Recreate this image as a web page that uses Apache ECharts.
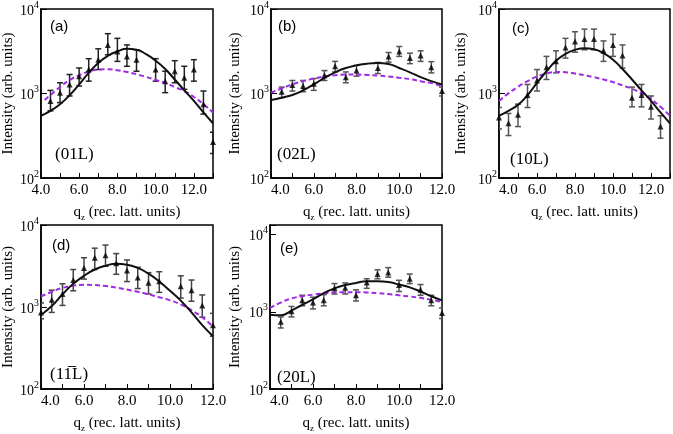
<!DOCTYPE html>
<html><head><meta charset="utf-8">
<script src="https://cdn.jsdelivr.net/npm/echarts@6/dist/echarts.min.js"></script>
<style>html,body{margin:0;padding:0;background:#fff}#c{width:673px;height:434px}</style>
</head><body><div id="c"></div>
<script>
// ---------- data ----------
const fitQ13 = [4,4.5,5,5.5,6,6.5,7,7.5,8,8.5,9,9.5,10,10.5,11,11.5,12,12.5,13];
const fitQ12 = [4,4.5,5,5.5,6,6.5,7,7.5,8,8.5,9,9.5,10,10.5,11,11.5,12];
const modelQA = [4.2,4.5,5,5.5,6,6.5,7,7.5,8,8.5,9,9.5,10,10.5,11,11.5,12,12.5,13];

// (a) 01L
const qA   = [4.5,5,5.5,6,6.5,7,7.5,8,8.5,9,10,10.5,11,11.5,12,12.5,13];
const valA = [817,1023,1280,1603,1920,2512,3758,3140,2749,2512,1920,1400,1834,1532,1920,748,266];
const loA  = [624,780,935,1225,1400,1920,2870,2400,2100,1834,1400,1023,1340,1120,1400,571,195];
const hiA  = [1089,1340,1678,2005,2582,3380,5105,4495,3758,3290,2582,1834,2445,2100,2512,1070,348];
const fitA   = [545,624,748,953,1280,1753,2291,2793,3140,3375,3290,2924,2445,1950,1466,1089,817,597,444];
const modelA = [840,960,1191,1439,1645,1817,1920,1935,1884,1800,1690,1573,1450,1336,1191,1070,910,748,597];

// (b) 02L
const qB   = [4.5,5,5.5,6,6.5,7,7.5,8,9,9.5,10,10.5,11,11.5,12];
const valB = [1050,1257,1225,1303,1645,2100,1560,1867,2005,2749,3140,2623,2818,2042,1070];
const loB  = [893,1070,1050,1089,1426,1800,1340,1603,1722,2354,2749,2255,2400,1753,935];
const hiB  = [1191,1426,1426,1503,1867,2400,1800,2153,2334,3054,3597,3000,3200,2380,1191];
const fitB   = [840,893,960,1089,1280,1532,1782,2005,2153,2255,2291,2234,2005,1782,1560,1400,1280];
const modelB = [1023,1151,1280,1400,1503,1590,1645,1675,1675,1660,1630,1590,1532,1480,1400,1327,1225];

// (c) 10L
const qC   = [4,4.5,5,5.5,6,6.5,7,7.5,8,8.5,9,9.5,10,10.5,11,11.5,12,12.5];
const valC = [521,444,561,960,1426,2042,2400,3499,4111,4418,4418,3200,3758,2818,893,960,695,406];
const loC  = [381,318,406,682,1070,1466,1753,2623,3083,3290,3290,2400,2749,2005,695,695,499,296];
const hiC  = [682,581,748,1280,1920,2749,3200,4495,5380,5780,5780,4190,5010,3758,1191,1280,935,545];
const fitC   = [545,624,733,953,1340,1834,2445,2950,3290,3435,3342,3000,2512,1950,1466,1089,817,597,444];
const modelC = [817,1004,1202,1400,1590,1722,1800,1782,1722,1645,1560,1466,1365,1247,1138,1004,855,695,545];

// (d) 1-1L
const qD   = [4,4.5,5,5.5,6,6.5,7,7.5,8,8.5,9,9.5,10.5,11,11.5,12];
const valD = [859,1227,1443,2133,2998,3990,4283,3427,2791,2293,1970,2061,1787,1604,1045,601];
const loD  = [719,859,1045,1577,2191,2865,3135,2506,2043,1678,1443,1507,1284,1175,751,440];
const hiD  = [1122,1604,1918,2865,3990,5215,5700,4480,3747,3050,2623,2692,2400,2133,1403,836];
const fitD   = [800,1028,1429,1918,2400,2865,3190,3365,3275,2998,2553,2043,1577,1197,859,601,440];
const modelD = [1343,1535,1709,1818,1866,1851,1801,1722,1633,1535,1429,1318,1206,1075,915,751,575];

// (e) 20L
const qE   = [4.5,5,5.5,6,6.5,7,7.5,8,8.5,9,9.5,10,10.5,11,11.5,12];
const valE = [744,1017,1406,1314,1406,2013,2052,1636,2387,3083,3236,2217,2675,1923,1406,961];
const loE  = [617,858,1196,1089,1196,1698,1698,1379,2013,2675,2806,1832,2319,1636,1196,820];
const hiE  = [858,1173,1636,1545,1668,2319,2366,1923,2675,3493,3730,2556,3083,2254,1636,1120];
const fitE   = [918,900,1038,1231,1447,1746,2013,2217,2366,2485,2485,2434,2254,2071,1832,1589,1406];
const modelE = [1120,1314,1489,1589,1668,1730,1781,1796,1796,1781,1746,1698,1636,1576,1515,1432,1340];

const labelsPanel = ['(a)','(b)','(c)','(d)','(e)'];
const labelsHKL = ['(01L)','(02L)','(10L)','(11\u0305L)','(20L)'];

// ---------- layout/style ----------
const SERIF = 'Liberation Serif';
const panels = [
  {q:qA,v:valA,lo:loA,hi:hiA,fq:fitQ13,fit:fitA,mq:modelQA,model:modelA,xmax:13,ymax:10000,
   grid:{left:40,top:7,width:173,height:171},gap:23,barColor:'#222',alignMin:'center',
   lab:[50,19],hkl:[55,146]},
  {q:qB,v:valB,lo:loB,hi:hiB,fq:fitQ12,fit:fitB,mq:fitQ12,model:modelB,xmax:12,ymax:10000,
   grid:{left:271,top:7,width:171,height:171},gap:28,barColor:'#555',alignMin:'left',
   lab:[278,19],hkl:[277,146]},
  {q:qC,v:valC,lo:loC,hi:hiC,fq:fitQ13,fit:fitC,mq:fitQ13,model:modelC,xmax:13,ymax:10000,
   grid:{left:499,top:7,width:172,height:171},gap:30,barColor:'#555',alignMin:'left',
   lab:[512,21],hkl:[510,151]},
  {q:qD,v:valD,lo:loD,hi:hiD,fq:fitQ12,fit:fitD,mq:fitQ12,model:modelD,xmax:12,ymax:10000,
   grid:{left:41,top:225,width:172,height:172},gap:25,barColor:'#444',alignMin:'left',
   lab:[52,238],hkl:[50,366]},
  {q:qE,v:valE,lo:loE,hi:hiE,fq:fitQ12,fit:fitE,mq:fitQ12,model:modelE,xmax:12,ymax:13300,
   grid:{left:270,top:225,width:172,height:172},gap:27,barColor:'#555',alignMin:'left',
   lab:[280,241],hkl:[277,369]}
];

const grids=[],xAxes=[],yAxes=[],series=[],graphics=[];
const zip=(a,b)=>a.map((x,i)=>[x,b[i]]);

panels.forEach((p,i)=>{
  grids.push(Object.assign({show:true,borderColor:'#000',borderWidth:1.5,backgroundColor:'transparent'},p.grid));
  xAxes.push({
    gridIndex:i,type:'value',min:4,max:p.xmax,interval:1,
    name:'{b|q}{z|z}{b| (rec. latt. units)}',nameLocation:'middle',nameGap:24,
    nameTextStyle:{rich:{b:{fontFamily:SERIF,fontSize:15,color:'#000',lineHeight:20,verticalAlign:'middle'},
                         z:{fontFamily:SERIF,fontSize:9,color:'#000',lineHeight:20,verticalAlign:'bottom'}}},
    axisLine:{show:true,lineStyle:{color:'#000',width:1.5}},
    axisTick:{show:true,inside:true,length:5,lineStyle:{color:'#000',width:1}},
    splitLine:{show:false},
    axisLabel:{fontFamily:SERIF,fontSize:15,color:'#000',margin:5,alignMinLabel:p.alignMin,
      formatter:v=>Math.abs(v%2)<1e-9?v.toFixed(1):''}
  });
  yAxes.push({
    gridIndex:i,type:'log',logBase:10,min:100,max:p.ymax,
    name:'Intensity (arb. units)',nameLocation:'middle',nameGap:p.gap,
    nameTextStyle:{fontFamily:SERIF,fontSize:15,color:'#000'},
    axisLine:{show:true,lineStyle:{color:'#000',width:1.5}},
    axisTick:{show:true,inside:true,length:6,lineStyle:{color:'#000',width:1}},
    splitLine:{show:false},minorTick:{show:false},
    axisLabel:{margin:2,
      formatter:v=>{const l=Math.log10(v),e=Math.round(l);return Math.abs(l-e)>0.01?'':'{b|10}{s|'+e+'}';},
      rich:{b:{fontFamily:SERIF,fontSize:14,color:'#000',lineHeight:18,verticalAlign:'bottom'},
            s:{fontFamily:SERIF,fontSize:10,color:'#000',lineHeight:18,verticalAlign:'top'}}}
  });
  const bc=p.barColor;
  series.push({
    type:'custom',xAxisIndex:i,yAxisIndex:i,clip:true,z:2,
    data:p.q.map((x,k)=>[x,p.lo[k],p.hi[k]]),
    encode:{x:0,y:[1,2]},
    renderItem:(params,api)=>{
      const x=api.value(0),lo=api.value(1),hi=api.value(2);
      const a=api.coord([x,hi]),b=api.coord([x,lo]);const w=3;
      const st={stroke:bc,lineWidth:1.5};
      return {type:'group',children:[
        {type:'line',shape:{x1:a[0],y1:a[1],x2:b[0],y2:b[1]},style:st},
        {type:'line',shape:{x1:a[0]-w,y1:a[1],x2:a[0]+w,y2:a[1]},style:st},
        {type:'line',shape:{x1:b[0]-w,y1:b[1],x2:b[0]+w,y2:b[1]},style:st}
      ]};
    }
  });
  series.push({type:'line',xAxisIndex:i,yAxisIndex:i,data:zip(p.mq,p.model),smooth:true,showSymbol:false,
    lineStyle:{color:'#a02ae6',width:2,type:[5,3]},z:3,silent:true});
  series.push({type:'line',xAxisIndex:i,yAxisIndex:i,data:zip(p.fq,p.fit),smooth:true,showSymbol:false,
    lineStyle:{color:'#111',width:2},z:4,silent:true});
  series.push({type:'scatter',xAxisIndex:i,yAxisIndex:i,data:zip(p.q,p.v),symbol:'triangle',symbolSize:6,
    itemStyle:{color:'#000'},clip:true,z:5,silent:true});
  graphics.push({type:'text',x:p.lab[0],y:p.lab[1],style:{text:labelsPanel[i],font:'15px "Liberation Sans"',fill:'#000',verticalAlign:'top'}});
  graphics.push({type:'text',x:p.hkl[0],y:p.hkl[1],style:{text:labelsHKL[i],font:'17px "Liberation Serif"',fill:'#000',verticalAlign:'top'}});
});

const chart=echarts.init(document.getElementById('c'),null,{renderer:'canvas'});
chart.setOption({animation:false,grid:grids,xAxis:xAxes,yAxis:yAxes,series:series,graphic:graphics});
</script></body></html>
